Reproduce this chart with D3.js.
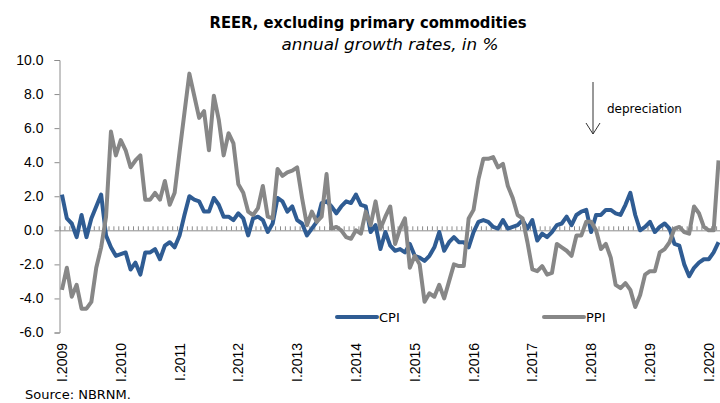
<!DOCTYPE html>
<html>
<head>
<meta charset="utf-8">
<script src="https://cdn.jsdelivr.net/npm/d3@7"></script>
<style>
  body { margin: 0; background: #fff; }
  svg { display: block; font-family: 'DejaVu Sans', Verdana, sans-serif; }
  .axis path, .axis line { stroke: #8c8c8c; }
  .axis text { fill: #000; }
</style>
</head>
<body>
<div id="content"></div>
<script>
// monthly, I.2009 .. III.2020
const CPI = [
  2.1, 0.7, 0.4, -0.4, 0.9, -0.4, 0.7, 1.4, 2.1, -0.3, -1.0, -1.5,
  -1.4, -1.3, -2.3, -1.9, -2.6, -1.3, -1.3, -1.1, -1.7, -0.9, -0.7, -1.0,
  -0.3, 0.9, 2.0, 1.8, 1.7, 1.1, 1.1, 1.9, 1.5, 0.8, 0.8, 0.6,
  1.0, 0.7, -0.3, 0.7, 0.8, 0.6, -0.1, 0.4, 1.9, 1.7, 1.1, 1.4,
  0.6, 0.4, -0.3, 0.1, 0.5, 1.6, 1.7, 1.4, 1.0, 1.4, 1.7, 1.6,
  2.1, 1.5, 1.4, -0.1, 0.3, -1.1, -0.1, -0.9, -1.2, -1.1, -1.3, -0.8,
  -1.5, -1.6, -1.8, -1.5, -1.0, -0.1, -1.2, -0.7, -0.4, -0.7, -0.7, -1.0,
  -0.1, 0.5, 0.6, 0.5, 0.2, 0.1, 0.6, 0.1, 0.2, 0.3, 0.6, 0.1,
  0.6, -0.6, -0.2, -0.4, -0.1, 0.3, 0.4, 0.8, 0.3, 0.9, 1.1, 1.2,
  -0.1, 0.9, 0.9, 1.2, 1.2, 1.0, 0.9, 1.5, 2.2, 0.9, 0.0, 0.2,
  0.5, -0.1, 0.2, 0.4, 0.1, -0.8, -0.9, -2.0, -2.7, -2.2, -1.9, -1.7,
  -1.7, -1.3, -0.7
];
const PPI = [
  -3.5, -2.2, -3.9, -3.2, -4.6, -4.6, -4.2, -2.2, -1.0, 0.8, 5.8, 4.4,
  5.3, 4.7, 3.7, 4.1, 4.4, 1.8, 1.8, 2.2, 1.8, 2.9, 1.5, 2.2,
  4.6, 6.9, 9.2, 7.9, 6.6, 7.0, 4.7, 7.9, 6.5, 4.4, 5.7, 5.1,
  2.7, 2.2, 1.1, 0.9, 1.3, 2.6, 0.8, 0.7, 3.6, 3.2, 3.4, 3.5,
  3.7, 1.9, 0.3, 1.1, 0.5, 0.8, 3.3, 0.1, 0.2, 0.0, -0.4, -0.5,
  0.0, -0.2, 1.1, 0.3, 1.7, 0.1, 0.8, 1.4, -0.8, 0.1, 0.7, -2.2,
  -1.5, -2.0, -4.2, -3.7, -3.9, -3.2, -4.0, -3.0, -2.0, -2.1, -2.1, 0.7,
  1.2, 3.0, 4.2, 4.2, 4.3, 3.7, 3.9, 2.6, 1.9, 0.9, 0.7, -0.7,
  -2.3, -2.4, -2.1, -2.6, -2.5, -0.8, -1.0, -1.2, -1.5, -0.3, -0.3, 0.5,
  0.5, 0.0, -1.1, -0.8, -1.6, -3.2, -3.4, -3.1, -3.5, -4.5, -3.8, -2.6,
  -2.4, -2.4, -1.3, -1.1, -0.7, 0.1, 0.2, -0.1, -0.2, 1.4, 1.0, 0.2,
  0.0, 0.0, 4.1
];
const YEAR_LABELS = ['I.2009', 'I.2010', 'I.2011', 'I.2012', 'I.2013', 'I.2014',
  'I.2015', 'I.2016', 'I.2017', 'I.2018', 'I.2019', 'I.2020'];
const Y_TICKS = [-6, -4, -2, 0, 2, 4, 6, 8, 10];
const SERIES = [
  {name: 'CPI', values: CPI, color: '#2f5c93'},
  {name: 'PPI', values: PPI, color: '#878787'}
];

var width = 720;
var height = 403;
var left = 59.5;
var step = 4.9;

var svg = d3.select('#content')
  .append('svg')
  .attr('width', width)
  .attr('height', height);

var months = d3.range(CPI.length);

var xScale = d3.scaleBand()
  .domain(months)
  .range([left, left + months.length * step]);
var xMid = i => xScale(i) + xScale.bandwidth() / 2;

var yScale = d3.scaleLinear()
  .domain([-6, 10])
  .range([332.5, 60]);

// title
var title = svg.append('text')
  .attr('x', 368)
  .attr('y', 28)
  .attr('text-anchor', 'middle')
  .style('font-size', '16.5px')
  .style('font-weight', 'bold')
  .text('REER, excluding primary commodities');
if (title.node().getComputedTextLength() > 317) {
  title.attr('textLength', 317).attr('lengthAdjust', 'spacingAndGlyphs');
}

svg.append('text')
  .attr('x', 390)
  .attr('y', 50)
  .attr('text-anchor', 'middle')
  .attr('textLength', 217)
  .attr('lengthAdjust', 'spacingAndGlyphs')
  .style('font-size', '16px')
  .style('font-style', 'italic')
  .text('annual growth rates, in %');

// y axis
var yAxis = d3.axisLeft(yScale)
  .tickValues(Y_TICKS)
  .tickFormat(d => d.toFixed(1))
  .tickSizeOuter(0)
  .tickSize(5)
  .tickPadding(11);

svg.append('g')
  .attr('class', 'axis y-axis')
  .attr('transform', `translate(${left}, 0)`)
  .call(yAxis)
  .call(g => g.selectAll('text').style('font-size', '14px'));

// zero line with monthly ticks between categories
var tickScale = d3.scaleLinear()
  .domain([0, months.length])
  .range([left, left + months.length * step]);

svg.append('g')
  .attr('class', 'axis zero-axis')
  .attr('transform', `translate(0, ${yScale(0)})`)
  .call(d3.axisTop(tickScale)
    .tickValues(d3.range(1, months.length + 1))
    .tickFormat('')
    .tickSizeOuter(0)
    .tickSize(4))
  .call(g => g.selectAll('.tick line').attr('stroke', '#a6a6a6'));

// x labels, placed low
svg.append('g')
  .attr('class', 'axis x-labels')
  .attr('transform', 'translate(0, 337)')
  .call(d3.axisBottom(xScale)
    .tickValues(months.filter(i => i % 12 == 0))
    .tickFormat(i => YEAR_LABELS[i / 12])
    .tickSize(0))
  .call(g => g.select('.domain').remove())
  .call(g => g.selectAll('text')
    .style('font-size', '14px')
    .attr('transform', 'rotate(-90)')
    .attr('text-anchor', 'end')
    .attr('x', -6)
    .attr('y', 0)
    .attr('dy', '0.36em'));

// lines
var line = d3.line()
  .x((d, i) => xMid(i))
  .y(d => yScale(d));

svg.selectAll('.series')
  .data(SERIES)
  .enter()
  .append('path')
  .attr('class', 'series')
  .attr('fill', 'none')
  .attr('stroke', d => d.color)
  .attr('stroke-width', 4)
  .attr('stroke-linejoin', 'round')
  .attr('d', d => line(d.values));

// legend
var legendX = [337, 544];
var legend = svg.selectAll('.legend')
  .data(SERIES)
  .enter()
  .append('g')
  .attr('class', 'legend')
  .attr('transform', (d, i) => `translate(${legendX[i]}, 317)`);

legend.append('line')
  .attr('x1', 0)
  .attr('x2', 40)
  .attr('stroke', d => d.color)
  .attr('stroke-width', 4)
  .attr('stroke-linecap', 'round');

legend.append('text')
  .attr('x', 42)
  .attr('y', 5)
  .style('font-size', '13px')
  .text(d => d.name);

// depreciation marker
svg.append('line')
  .attr('x1', 593).attr('x2', 593)
  .attr('y1', 82).attr('y2', 134)
  .attr('stroke', '#333');
svg.append('path')
  .attr('d', 'M586,123 L593,134 L600,123')
  .attr('fill', 'none')
  .attr('stroke', '#333');
svg.append('text')
  .attr('x', 607)
  .attr('y', 113)
  .style('font-size', '12px')
  .text('depreciation');

svg.append('text')
  .attr('x', 25)
  .attr('y', 399)
  .style('font-size', '13px')
  .text('Source: NBRNM.');
</script>
</body>
</html>
